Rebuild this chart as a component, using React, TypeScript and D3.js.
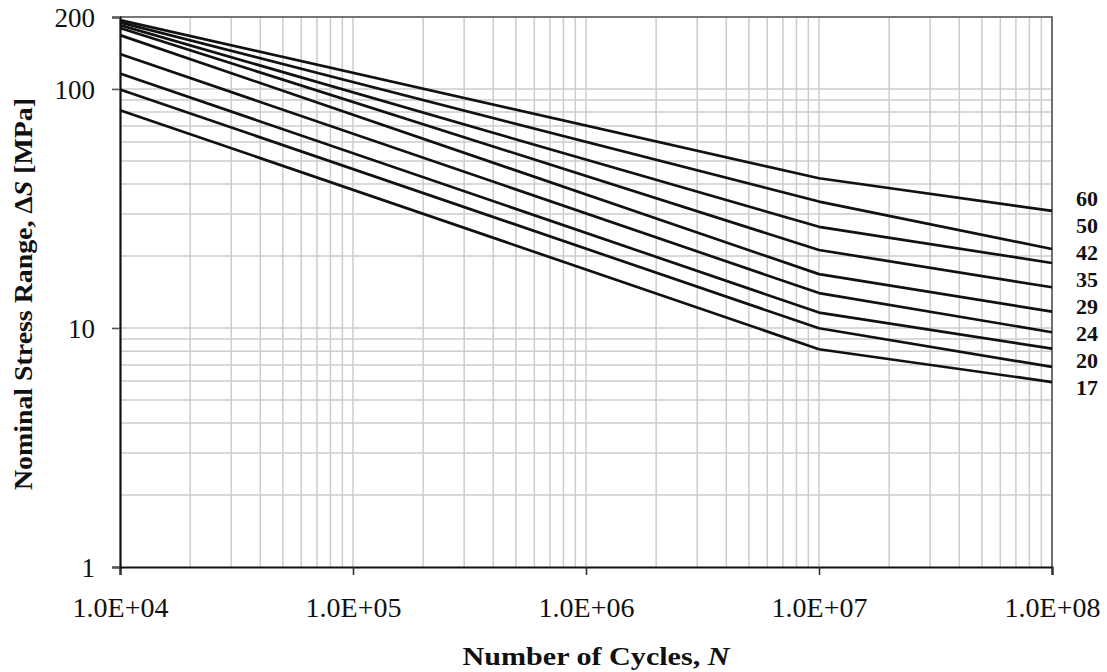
import React, { useEffect, useRef } from 'react';
import * as d3 from 'd3';

// cycles where each curve has a vertex
const cycles = [1e4, 1e7, 1e8];

// stress range (MPa) of each curve at the cycles above, top curve first
const curve1 = [194, 42.3, 30.9];
const curve2 = [190, 33.8, 21.4];
const curve3 = [185, 26.5, 18.7];
const curve4 = [180, 21.2, 14.8];
const curve5 = [168, 16.8, 11.7];
const curve6 = [140, 14.0, 9.6];
const curve7 = [116, 11.6, 8.2];
const curve8 = [99.5, 9.97, 6.87];
const curve9 = [81.5, 8.15, 5.94];
const curves = [curve1, curve2, curve3, curve4, curve5, curve6, curve7, curve8, curve9];

// category labels at the right
const classLabels = ['60', '50', '42', '35', '29', '24', '20', '17'];

const xTicks = [1e4, 1e5, 1e6, 1e7, 1e8];
const xTickLabels = ['1.0E+04', '1.0E+05', '1.0E+06', '1.0E+07', '1.0E+08'];
const yTicks = [1, 10, 100, 200];
const yTickLabels = ['1', '10', '100', '200'];

const W = 1107;
const H = 672;

const App = () => {
  const ref = useRef<SVGSVGElement | null>(null);

  useEffect(() => {
    const svg = d3.select(ref.current);
    svg.selectAll('*').remove();

    const margin = { top: 17, right: 55, bottom: 105, left: 120 };
    const x = d3.scaleLog().domain([1e4, 1e8]).range([margin.left, W - margin.right]);
    const y = d3.scaleLog().domain([1, 200]).range([H - margin.bottom, margin.top]);
    const [x0, x1] = x.range();
    const [y0, y1] = y.range();
    const font = '"Liberation Serif", "Times New Roman", serif';

    // grid
    const xGrid: number[] = [];
    for (let d = 1e4; d < 1e8; d *= 10) for (let k = 2; k <= 10; k++) xGrid.push(d * k);
    const yGrid: number[] = [];
    for (let d = 1; d < 200; d *= 10) for (let k = 2; k <= 10; k++) if (d * k <= 200) yGrid.push(d * k);

    const grid = svg.append('g').attr('stroke', '#cccccc').attr('stroke-width', 1.5);
    grid
      .selectAll('.vg')
      .data(xGrid)
      .enter()
      .append('line')
      .attr('x1', (d) => x(d))
      .attr('x2', (d) => x(d))
      .attr('y1', y0)
      .attr('y2', y1);
    grid
      .selectAll('.hg')
      .data(yGrid)
      .enter()
      .append('line')
      .attr('x1', x0)
      .attr('x2', x1)
      .attr('y1', (d) => y(d))
      .attr('y2', (d) => y(d));

    // frame: top and right
    svg
      .append('path')
      .attr('d', `M${x0},${y1}H${x1}V${y0}`)
      .attr('fill', 'none')
      .attr('stroke', '#555')
      .attr('stroke-width', 1.6);

    // curves
    const line = d3
      .line<number>()
      .x((d, i) => x(cycles[i]))
      .y((d) => y(d));
    svg
      .selectAll('.curve')
      .data(curves)
      .enter()
      .append('path')
      .attr('d', (d) => line(d))
      .attr('fill', 'none')
      .attr('stroke', '#111')
      .attr('stroke-width', 2.7)
      .attr('stroke-linejoin', 'round');

    // axes
    const xAxis = svg
      .append('g')
      .attr('transform', `translate(0,${y0})`)
      .call(
        d3
          .axisBottom(x)
          .tickValues(xTicks)
          .tickSize(8)
          .tickFormat((d, i) => xTickLabels[i])
      );
    xAxis.select('.domain').attr('stroke', '#111').attr('stroke-width', 2.2);
    xAxis.selectAll('line').attr('stroke', '#333').attr('stroke-width', 1.6);
    xAxis
      .selectAll('text')
      .attr('dy', 0)
      .attr('y', 50)
      .style('font-family', font)
      .style('font-size', '28px')
      .attr('fill', '#111');

    const yAxis = svg
      .append('g')
      .attr('transform', `translate(${x0},0)`)
      .call(
        d3
          .axisLeft(y)
          .tickValues(yTicks)
          .tickSize(8)
          .tickFormat((d, i) => yTickLabels[i])
      );
    yAxis.select('.domain').attr('stroke', '#111').attr('stroke-width', 2.2);
    yAxis.selectAll('line').attr('stroke', '#555').attr('stroke-width', 1.6);
    yAxis
      .selectAll('text')
      .attr('x', -25)
      .attr('dy', '0.62em')
      .attr('transform', 'translate(0,-7)')
      .style('font-family', font)
      .style('font-size', '27px')
      .attr('fill', '#111');

    // category labels
    svg
      .selectAll('.cls')
      .data(classLabels)
      .enter()
      .append('text')
      .attr('x', x1 + 24)
      .attr('y', (d, i) => 198 + i * 27.1)
      .attr('dy', '0.35em')
      .style('font-family', font)
      .style('font-size', '22px')
      .style('font-weight', 'bold')
      .attr('fill', '#111')
      .text((d) => d);

    // axis titles
    const xTitle = svg
      .append('text')
      .attr('x', (x0 + x1) / 2 + 10)
      .attr('y', 665)
      .attr('text-anchor', 'middle')
      .attr('textLength', 267)
      .attr('lengthAdjust', 'spacingAndGlyphs')
      .style('font-family', font)
      .style('font-size', '25px')
      .style('font-weight', 'bold')
      .attr('fill', '#111');
    xTitle.append('tspan').text('Number of Cycles, ');
    xTitle.append('tspan').style('font-style', 'italic').text('N');

    const yTitle = svg
      .append('text')
      .attr('transform', `translate(32,${(y0 + y1) / 2 + 2}) rotate(-90)`)
      .attr('text-anchor', 'middle')
      .attr('textLength', 392)
      .attr('lengthAdjust', 'spacingAndGlyphs')
      .style('font-family', font)
      .style('font-size', '25px')
      .style('font-weight', 'bold')
      .attr('fill', '#111');
    yTitle.append('tspan').text('Nominal Stress Range, Δ');
    yTitle.append('tspan').style('font-style', 'italic').text('S');
    yTitle.append('tspan').text(' [MPa]');
  }, []);

  return (
    <svg
      ref={ref}
      width={W}
      height={H}
      style={{ position: 'absolute', left: 0, top: 0, background: '#fff' }}
    />
  );
};

export default App;
